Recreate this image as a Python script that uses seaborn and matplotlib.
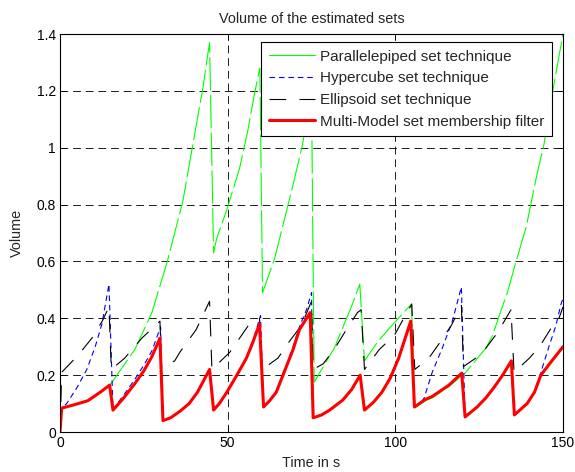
import matplotlib
matplotlib.use("Agg")
import matplotlib.pyplot as plt
from matplotlib.lines import Line2D
import seaborn as sns
import numpy as np

# ---------------- data ----------------
title = "Volume of the estimated sets"
x_label = "Time in s"
y_label = "Volume"
labels = ["Parallelepiped set technique", "Hypercube set technique",
          "Ellipsoid set technique", "Multi-Model set membership filter"]
x_ticks = [0, 50, 100, 150]
y_ticks = [0, 0.2, 0.4, 0.6, 0.8, 1.0, 1.2, 1.4]
y_tick_labels = ["0", "0.2", "0.4", "0.6", "0.8", "1", "1.2", "1.4"]

# Multi-Model set membership filter (red)
red_t = [0, 0.5, 4, 8.3, 12, 14.8, 15.8, 19, 22.3, 25, 27.4, 29.8,
         30.7, 33, 36, 38.5, 41, 44.6,
         45.8, 47.5, 49.6, 52.5, 55.6, 57.5, 59.5,
         60.7, 62.5, 64.5, 67.5, 69.5, 71.4, 74.6,
         75.5, 78, 80.4, 84.3, 87, 89.5,
         90.8, 93.5, 96, 98.5, 101, 104.6,
         105.7, 109, 111, 116, 119.8,
         120.8, 124.4, 127, 129.5, 132, 134.6,
         135.5, 139.3, 141.5, 143.4, 146, 150]
red_v = [0, 0.084, 0.095, 0.11, 0.14, 0.165, 0.077, 0.12, 0.17, 0.215, 0.265, 0.33,
         0.04, 0.05, 0.075, 0.10, 0.14, 0.22,
         0.077, 0.10, 0.137, 0.195, 0.26, 0.315, 0.38,
         0.088, 0.11, 0.14, 0.23, 0.29, 0.36, 0.42,
         0.05, 0.06, 0.077, 0.112, 0.15, 0.20,
         0.077, 0.105, 0.14, 0.19, 0.26, 0.39,
         0.088, 0.115, 0.125, 0.165, 0.207,
         0.053, 0.088, 0.12, 0.158, 0.20, 0.25,
         0.06, 0.10, 0.14, 0.20, 0.24, 0.30]

# Hypercube set technique (blue)
blue_t = [0, 0.5, 2, 5, 8, 10.5, 12.5, 14.6,
          15.8, 19, 22.3, 25, 27.4, 30,
          30.7, 33, 36, 38.5, 41, 44.6,
          45.8, 47.5, 49.6, 52.5, 55.6, 57.5, 59.8,
          60.7, 62.5, 64.5, 67.5, 69.5, 71.4, 73.5, 75,
          75.5, 78, 80.4, 84.3, 87, 89.5,
          90.8, 93.5, 96, 98.5, 101, 104.6,
          105.7, 107.5, 108.6, 111, 114, 117, 119.7,
          120.8, 124.4, 127, 129.5, 132, 134.6,
          135.5, 139.3, 141.5, 143.4, 145.8, 147.9, 149.4, 150]
blue_v = [0, 0.084, 0.10, 0.155, 0.22, 0.30, 0.38, 0.52,
          0.08, 0.13, 0.185, 0.235, 0.285, 0.37,
          0.04, 0.05, 0.075, 0.10, 0.14, 0.22,
          0.077, 0.10, 0.137, 0.195, 0.26, 0.32, 0.41,
          0.088, 0.11, 0.145, 0.235, 0.30, 0.37, 0.43, 0.49,
          0.05, 0.06, 0.077, 0.112, 0.15, 0.20,
          0.077, 0.105, 0.14, 0.19, 0.26, 0.39,
          0.088, 0.10, 0.12, 0.21, 0.295, 0.39, 0.51,
          0.053, 0.088, 0.12, 0.158, 0.20, 0.25,
          0.06, 0.10, 0.14, 0.21, 0.30, 0.375, 0.45, 0.47]

# Ellipsoid set technique (black)
black_t = [0, 0.5, 5.4, 9.5, 12.6, 14.6,
           15.3, 19.3, 24.4, 29.8,
           30.3, 34.2, 35.7, 40.6, 44.6,
           45.3, 50.6, 56.5, 59.5,
           60.3, 65, 68.5, 72, 75,
           75.5, 78.5, 82, 85.4, 88.7, 89.8,
           90.8, 95.2, 99.7, 103, 104.9,
           105.8, 110, 113, 116.7, 119.7,
           120.3, 124, 127, 130.5, 134.5,
           135.4, 140, 143, 146.7, 148.8, 150]
black_v = [0, 0.21, 0.27, 0.33, 0.39, 0.44,
           0.22, 0.26, 0.33, 0.39,
           0.23, 0.25, 0.28, 0.36, 0.46,
           0.22, 0.28, 0.38, 0.40,
           0.22, 0.26, 0.32, 0.375, 0.46,
           0.22, 0.24, 0.295, 0.36, 0.42, 0.43,
           0.22, 0.29, 0.34, 0.41, 0.45,
           0.22, 0.26, 0.31, 0.375, 0.445,
           0.23, 0.26, 0.295, 0.35, 0.43,
           0.21, 0.26, 0.30, 0.37, 0.40, 0.44]

# Parallelepiped set technique (green)
green_t = [0, 0.5, 4, 8.3, 12, 14.8,
           15.5, 22.3, 27.4, 32, 36.6, 40.2, 42.6, 44.6,
           45.8, 46.7, 49.7, 53.6, 56, 58, 59.6,
           60.4, 64, 69.3, 72.3, 75,
           75.8, 79.5, 81.8, 87.2, 89.4,
           90.8, 94.6, 98.2, 104.8,
           105.8, 109, 111, 116, 120, 121, 127, 129, 131, 133.4, 136, 139,
           142.3, 144.3, 146.8, 150]
green_v = [0, 0.084, 0.095, 0.11, 0.14, 0.165,
           0.175, 0.29, 0.42, 0.60, 0.81, 1.05, 1.21, 1.37,
           0.63, 0.68, 0.78, 0.93, 1.06, 1.19, 1.28,
           0.49, 0.61, 0.86, 1.01, 1.20,
           0.175, 0.25, 0.295, 0.45, 0.52,
           0.25, 0.315, 0.365, 0.45,
           0.085, 0.11, 0.12, 0.16, 0.20, 0.21, 0.295, 0.34, 0.41, 0.49, 0.60, 0.72,
           0.91, 1.01, 1.19, 1.40]

# ---------------- style ----------------
sns.set_theme(style="white")
plt.rcParams["font.family"] = ["Liberation Sans", "DejaVu Sans"]

fig = plt.figure(figsize=(5.75, 4.72), dpi=100)
ax = fig.add_axes([60 / 575, (472 - 432) / 472, 503 / 575, 398 / 472])

c_green = "#00ff00"
c_blue = "#0000ff"
c_black = "#000000"
c_red = "#ff0000"

sns.lineplot(x=green_t, y=green_v, ax=ax, color=c_green, lw=0.8, sort=False,
             estimator=None, linestyle=(0, (30, 4)))
sns.lineplot(x=blue_t, y=blue_v, ax=ax, color=c_blue, lw=0.8, sort=False,
             estimator=None, linestyle=(0, (5, 3.5)))
sns.lineplot(x=black_t, y=black_v, ax=ax, color=c_black, lw=0.8, sort=False,
             estimator=None, linestyle=(0, (15, 12)))
sns.lineplot(x=red_t, y=red_v, ax=ax, color=c_red, lw=2.2, sort=False,
             estimator=None)

ax.set_xlim(0, 150)
ax.set_ylim(0, 1.4)
ax.set_xticks(x_ticks)
ax.set_xticklabels([str(v) for v in x_ticks])
ax.set_yticks(y_ticks)
ax.set_yticklabels(y_tick_labels)
ax.grid(True, color="#1a1a1a", linestyle=(0, (8, 5)), linewidth=0.7)
ax.tick_params(direction="in", length=4, width=0.7, colors="black",
               labelsize=10, top=True, right=True, bottom=True, left=True, pad=3)
for s in ax.spines.values():
    s.set_visible(True)
    s.set_color("black")
    s.set_linewidth(0.8)

ax.set_title(title, fontsize=10.4, pad=8)
ax.set_xlabel(x_label, fontsize=10.4, labelpad=4)
ax.set_ylabel(y_label, fontsize=10.4, labelpad=9)

handles = [
    Line2D([], [], color=c_green, lw=0.8),
    Line2D([], [], color=c_blue, lw=0.8, linestyle=(0, (5, 3.5))),
    Line2D([], [], color=c_black, lw=0.8, linestyle=(0, (15, 12))),
    Line2D([], [], color=c_red, lw=2.2),
]
leg = ax.legend(handles, labels, loc="upper right", bbox_to_anchor=(0.978, 0.980),
                fontsize=11, frameon=True, fancybox=False, framealpha=1,
                edgecolor="black", handlelength=3.0, handletextpad=0.33,
                labelspacing=0.5, borderpad=0.5, borderaxespad=0)
leg.get_frame().set_linewidth(0.8)

fig.savefig("out.png", dpi=100)
